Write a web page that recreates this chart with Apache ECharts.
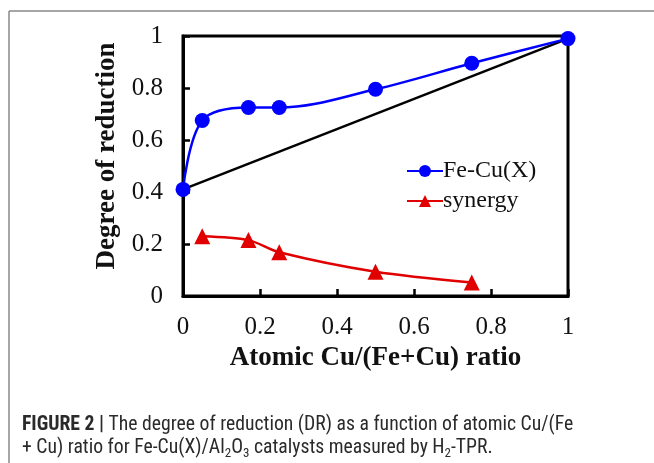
<!DOCTYPE html>
<html><head><meta charset="utf-8">
<script src="https://cdn.jsdelivr.net/npm/echarts@6/dist/echarts.min.js"></script>
<style>html,body{margin:0;padding:0;background:#fff}#c{width:654px;height:463px}</style>
</head><body><div id="c"></div>
<script>
const ratioX = [0, 0.05, 0.17, 0.25, 0.5, 0.75, 1];
const feCuDR = [0.41, 0.675, 0.725, 0.725, 0.795, 0.895, 0.99];
const synergyX = [0.05, 0.17, 0.25, 0.5, 0.75];
const synergyDR = [0.23, 0.215, 0.168, 0.093, 0.052];
const linearX = [0, 1];
const linearDR = [0.41, 0.99];
const xTicks = [0, 0.2, 0.4, 0.6, 0.8, 1];
const yTicks = [0, 0.2, 0.4, 0.6, 0.8, 1];

const zip = (xs, ys) => xs.map((x, i) => [x, ys[i]]);
const serif = '"Liberation Serif","Times New Roman",serif';
const sans = '"Liberation Sans Narrow","Roboto Condensed",Roboto,sans-serif';
const chart = echarts.init(document.getElementById('c'), null, {renderer: 'canvas'});
chart.setOption({
  animation: false,
  backgroundColor: '#fff',
  grid: {left: 183, top: 36, width: 385, height: 260, show: true, borderColor: '#000', borderWidth: 3, backgroundColor: 'transparent'},
  xAxis: {
    type: 'value', min: 0, max: 1, interval: 0.2,
    axisLine: {show: true, lineStyle: {color: '#000', width: 3}},
    axisTick: {show: true, inside: true, length: 7, lineStyle: {color: '#000', width: 2.5}},
    axisLabel: {color: '#111', fontFamily: serif, fontSize: 25, margin: 19, formatter: v => xTicks.includes(+v.toFixed(1)) ? String(+v.toFixed(1)) : ''},
    splitLine: {show: false},
    name: 'Atomic Cu/(Fe+Cu) ratio', nameLocation: 'middle', nameGap: 47,
    nameTextStyle: {fontFamily: serif, fontWeight: 'bold', fontSize: 27, color: '#111'}
  },
  yAxis: {
    type: 'value', min: 0, max: 1, interval: 0.2,
    axisLine: {show: true, lineStyle: {color: '#000', width: 3}},
    axisTick: {show: true, inside: true, length: 7, lineStyle: {color: '#000', width: 2.5}},
    axisLabel: {color: '#111', fontFamily: serif, fontSize: 25, margin: 20, formatter: v => yTicks.includes(+v.toFixed(1)) ? String(+v.toFixed(1)) : ''},
    splitLine: {show: false},
    name: 'Degree of reduction', nameLocation: 'middle', nameGap: 61, nameRotate: 90,
    nameTextStyle: {fontFamily: serif, fontWeight: 'bold', fontSize: 27, color: '#111', padding: [0, 0, 0, 20]}
  },
  legend: {
    left: 401, top: 154, orient: 'vertical', itemGap: 6, itemWidth: 36, itemHeight: 15,
    textStyle: {fontFamily: serif, fontSize: 24, color: '#111', padding: [0, 0, 0, -5]},
    data: ['Fe-Cu(X)', 'synergy']
  },
  series: [
    {name: 'linear', type: 'line', data: zip(linearX, linearDR), symbol: 'none',
     lineStyle: {color: '#000', width: 2.5}, z: 1, silent: true},
    {name: 'Fe-Cu(X)', type: 'line', data: zip(ratioX, feCuDR), smooth: 0.35,
     symbol: 'circle', symbolSize: 15, itemStyle: {color: '#0000ff'},
     lineStyle: {color: '#0000ff', width: 2.5}, z: 3},
    {name: 'synergy', type: 'line', data: zip(synergyX, synergyDR), smooth: 0.3,
     symbol: 'triangle', symbolSize: 16, itemStyle: {color: '#e00000'},
     lineStyle: {color: '#e00000', width: 2.5}, z: 3}
  ],
  graphic: [
    {type: 'line', shape: {x1: 9, y1: 11, x2: 654, y2: 11}, style: {stroke: '#888', lineWidth: 1.5}},
    {type: 'line', shape: {x1: 9, y1: 11, x2: 9, y2: 463}, style: {stroke: '#888', lineWidth: 1.5}},
    {type: 'text', left: 22, top: 414, style: {
      text: '{b|FIGURE 2 |} The degree of reduction (DR) as a function of atomic Cu/(Fe\n+ Cu) ratio for Fe-Cu(X)/Al{s|2}O{s|3} catalysts measured by H{s|2}-TPR.',
      font: '19.7px ' + sans, fill: '#2a2a2a', lineHeight: 23,
      rich: {
        b: {fontWeight: 'bold', fontFamily: sans, fontSize: 19.7, fill: '#2a2a2a'},
        s: {fontSize: 13, fontFamily: sans, verticalAlign: 'bottom', padding: [9, 0, 0, 0], fill: '#2a2a2a'}
      }
    }}
  ]
});
</script></body></html>
